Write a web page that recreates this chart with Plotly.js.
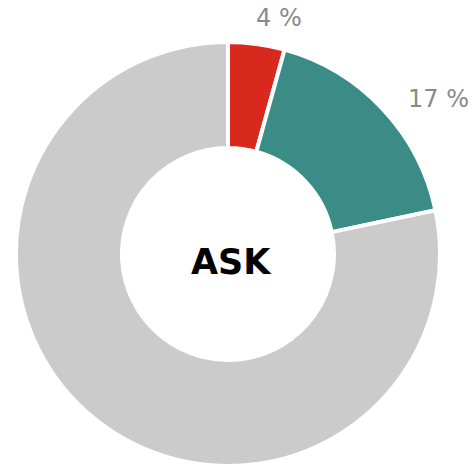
<!DOCTYPE html>
<html><head><meta charset="utf-8">
<script src="https://cdn.plot.ly/plotly-3.0.1.min.js"></script>
<style>html,body{margin:0;padding:0;background:#fff}#c{width:474px;height:466px}</style>
</head><body><div id="c"></div>
<script>
const categories = ["A", "B", "C"];
const values = [4.3, 17.4, 78.3];
const labelsText = ["4 %", "17 %", ""];
const colors = ["#d9281e", "#3b8c86", "#cbcbcb"];
const centerLabel = "ASK";
// label anchor positions (paper fraction) for the outside percentage labels
const labelX = [0.5886, 0.9251];
const labelY = [0.9614, 0.7876];

const trace = {
  type: "pie",
  labels: categories,
  values: values,
  textinfo: "none",
  hole: 0.5,
  sort: false,
  direction: "clockwise",
  rotation: 0,
  marker: {colors: colors, line: {color: "#ffffff", width: 4}},
  domain: {x: [0.030, 0.932], y: [0, 0.91]},
  showlegend: false,
  hoverinfo: "none"
};

const font = "'DejaVu Sans', Verdana, sans-serif";
const annotations = [{
  text: "<b>" + centerLabel + "</b>",
  x: 0.489, y: 0.438, xref: "paper", yref: "paper",
  showarrow: false,
  font: {family: font, size: 35, color: "#000000"}
}];
labelX.forEach((x, i) => {
  annotations.push({
    text: labelsText[i], x: x, y: labelY[i], xref: "paper", yref: "paper",
    xanchor: "center", yanchor: "middle", showarrow: false,
    font: {family: font, size: 24, color: "#8a8a8a"}
  });
});

const layout = {
  width: 474, height: 466,
  margin: {l: 0, r: 0, t: 0, b: 0},
  paper_bgcolor: "#ffffff",
  annotations: annotations
};
Plotly.newPlot("c", [trace], layout, {staticPlot: true});
</script></body></html>
